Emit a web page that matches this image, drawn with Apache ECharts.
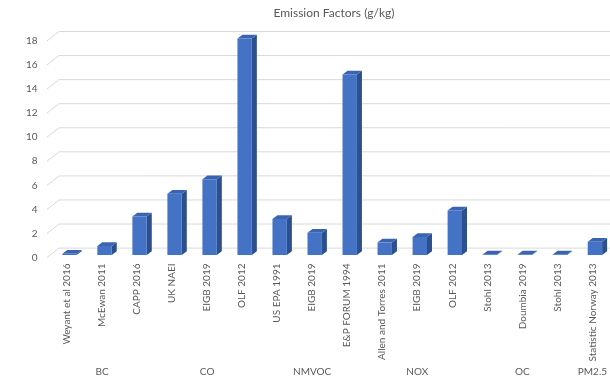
<!DOCTYPE html>
<html>
<head>
<meta charset="utf-8">
<script src="https://cdn.jsdelivr.net/npm/echarts@6/dist/echarts.min.js"></script>
<style>
  html, body { margin: 0; padding: 0; background: #fff; }
  #chart { width: 610px; height: 381px; }
</style>
</head>
<body>
<div id="chart"></div>
<script>
// Emission factor sources, one bar per source
const sources = [
  'Weyant et al 2016', 'McEwan 2011', 'CAPP 2016',
  'UK NAEI', 'EIGB 2019', 'OLF 2012',
  'US EPA 1991', 'EIGB 2019', 'E&P FORUM 1994',
  'Allen and Torres 2011', 'EIGB 2019', 'OLF 2012',
  'Stohl 2013', 'Doumbia 2019', 'Stohl 2013',
  'Statistic Norway 2013'
];
// Emission factor values (g/kg)
const factors = [
  0.1, 0.75, 3.2,
  5.1, 6.3, 18,
  3.0, 1.85, 15,
  1.05, 1.5, 3.7,
  0.05, 0.05, 0.05,
  1.1
];
// Pollutant groups and how many sources each one has
const pollutants = ['BC', 'CO', 'NMVOC', 'NOX', 'OC', 'PM2.5'];
const pollutantCounts = [3, 3, 3, 3, 3, 1];
// Value axis ticks
const yTicks = [0, 2, 4, 6, 8, 10, 12, 14, 16, 18];

// Pollutant label under the middle source of each group
const groupLabels = [];
pollutants.forEach((name, g) => {
  const n = pollutantCounts[g];
  for (let k = 0; k < n; k++) groupLabels.push(k === Math.floor(n / 2) ? name : '');
});

const FONT = 'Lato, "Open Sans", sans-serif';
const TEXT = '#595959';
const GRID_COLOR = '#D9D9D9';

// pseudo-3D geometry (pixels)
const BAR_W = 14.4;       // front face width
const BAR_SHIFT_X = 2.5;  // bar plane sits slightly behind the floor front edge
const BAR_SHIFT_Y = 2.5;
const DEPTH_X = 5;        // column depth
const DEPTH_Y = 3.7;
const WALL_X = 12;        // back wall offset
const WALL_Y = 9.4;

function renderBar(params, api) {
  const i = api.value(0);
  const v = api.value(1);
  const base = api.coord([i, 0]);
  const top = api.coord([i, v]);
  const x0 = base[0] + BAR_SHIFT_X - BAR_W / 2;
  const x1 = x0 + BAR_W;
  const yb = base[1] - BAR_SHIFT_Y;
  const yt = top[1] - BAR_SHIFT_Y;
  return {
    type: 'group',
    children: [
      {
        type: 'polygon',
        shape: { points: [[x1, yb], [x1, yt], [x1 + DEPTH_X, yt - DEPTH_Y], [x1 + DEPTH_X, yb - DEPTH_Y]] },
        style: { fill: '#2C4F8E' }
      },
      {
        type: 'polygon',
        shape: { points: [[x0, yt], [x1, yt], [x1 + DEPTH_X, yt - DEPTH_Y], [x0 + DEPTH_X, yt - DEPTH_Y]] },
        style: { fill: '#3A64B2' }
      },
      {
        type: 'rect',
        shape: { x: x0, y: yt, width: BAR_W, height: Math.max(yb - yt, 0) },
        style: { fill: '#4472C4' }
      }
    ]
  };
}

function renderGridLine(params, api) {
  const cs = params.coordSys;
  const y = api.coord([0, api.value(1)])[1];
  const xs = cs.x - 2.5;
  return {
    type: 'polyline',
    shape: { points: [[xs, y], [xs + WALL_X, y - WALL_Y], [cs.x + cs.width + 30, y - WALL_Y]] },
    style: { stroke: GRID_COLOR, lineWidth: 1, fill: null }
  };
}

const chart = echarts.init(document.getElementById('chart'), null, { renderer: 'canvas' });
chart.setOption({
  animation: false,
  backgroundColor: '#fff',
  title: {
    text: 'Emission Factors (g/kg)',
    left: 329,
    top: 2,
    textAlign: 'center',
    textStyle: { fontFamily: FONT, fontSize: 12, fontWeight: 'normal', color: TEXT }
  },
  grid: { left: 49.5, top: 40.9, width: 561.6, height: 216.6, containLabel: false },
  xAxis: [
    {
      type: 'category',
      data: sources,
      axisLine: { show: false },
      axisTick: { show: false },
      axisLabel: {
        interval: 0, rotate: 90, margin: 6,
        fontFamily: FONT, fontSize: 10, color: TEXT
      }
    },
    {
      type: 'category',
      position: 'bottom',
      data: groupLabels,
      axisLine: { show: false },
      axisTick: { show: false },
      axisLabel: { interval: 0, margin: 109, fontFamily: FONT, fontSize: 10, color: TEXT }
    }
  ],
  yAxis: {
    type: 'value',
    min: 0, max: 18, interval: 2,
    axisLine: { show: false },
    axisTick: { show: false },
    splitLine: { show: false },
    axisLabel: { margin: 12, fontFamily: FONT, fontSize: 10, color: TEXT }
  },
  series: [
    {
      type: 'custom',
      name: 'grid',
      xAxisIndex: 0,
      renderItem: renderGridLine,
      data: yTicks.map(v => [0, v]),
      encode: { x: 0, y: 1 },
      silent: true,
      z: 1
    },
    {
      type: 'custom',
      name: 'Emission factor',
      xAxisIndex: 0,
      renderItem: renderBar,
      data: factors.map((v, i) => [i, v]),
      encode: { x: 0, y: 1 },
      z: 2
    }
  ]
});
</script>
</body>
</html>
